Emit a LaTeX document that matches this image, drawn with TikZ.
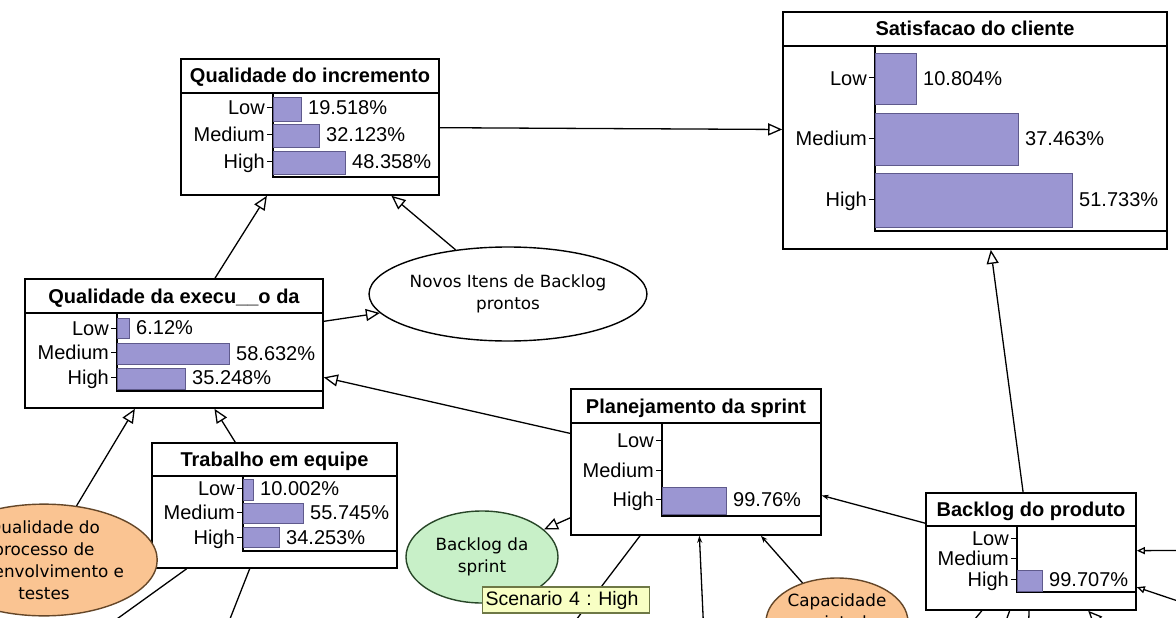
\documentclass[tikz,border=0pt]{standalone}
\usepackage{fontspec}
\setmainfont{Liberation Sans}
\newfontfamily\ellfont{DejaVu Sans}
\usetikzlibrary{arrows.meta,shapes.geometric}
\frenchspacing

\definecolor{barfill}{RGB}{155,150,210}
\definecolor{barline}{RGB}{95,90,140}
\definecolor{peach}{RGB}{250,196,146}
\definecolor{peachline}{RGB}{100,70,40}
\definecolor{mint}{RGB}{200,240,200}
\definecolor{mintline}{RGB}{40,70,40}
\definecolor{tipfill}{RGB}{248,255,196}
\definecolor{tipline}{RGB}{110,120,70}

\tikzset{
  netbox/.style={draw=black, line width=1.6pt, fill=white, rectangle, inner sep=0pt},
  boxtitle/.style={font=\bfseries\fontsize{20}{22}\selectfont, inner sep=0pt, anchor=base},
  statename/.style={font=\fontsize{20}{22}\selectfont, inner sep=0pt, anchor=base east},
  pctlabel/.style={font=\fontsize{20}{22}\selectfont, inner sep=0pt, anchor=base west},
  frameline/.style={line width=1.4pt},
  tickmark/.style={line width=1pt},
  bar/.style={fill=barfill, draw=barline, line width=0.8pt},
  chance/.style={ellipse, draw=black, line width=1.4pt, inner sep=0pt, align=center,
    font=\ellfont\fontsize{16.8}{22}\selectfont},
  conn/.style={line width=1.3pt, -{Triangle[open, fill=white, length=14pt, width=12pt]}},
  inlet/.style={line width=1.3pt, -{Triangle[open, fill=white, length=8pt, width=7pt]}},
  feed/.style={line width=1.3pt, -{Stealth[length=7pt, width=5pt]}},
  wire/.style={line width=1.3pt},
  scenario/.style={draw=tipline, fill=tipfill, line width=1.2pt, inner sep=0pt,
    minimum width=167pt, minimum height=26pt, font=\fontsize{19.5}{22}\selectfont}
}

% state name with its tick on the axis: axis x, text centre y, name
\newcommand\netlabel[3]{%
  \node[statename] at (#1-8,#2+7) {#3};
  \draw[tickmark] (#1-6,#2) -- (#1,#2);}
% probability bar: axis x, top y, bottom y, end x, text centre y, value
\newcommand\netbar[6]{%
  \filldraw[bar] (#1,#2) rectangle (#4,#3);
  \node[pctlabel] at (#4+7,#5+7) {#6};}

\begin{document}
\begin{tikzpicture}[x=1pt,y=-1pt]
\useasboundingbox (0,0) rectangle (1176,618);
\clip (0,0) rectangle (1176,618);

% ---------- nodes ----------
\node[netbox, minimum width=258pt, minimum height=136pt] (inc)  at (310,127) {};
\node[netbox, minimum width=384pt, minimum height=237pt] (sat)  at (975,130.5) {};
\node[netbox, minimum width=298pt, minimum height=129pt] (exec) at (174,343.5) {};
\node[netbox, minimum width=245pt, minimum height=125pt] (trab) at (274.5,505.5) {};
\node[netbox, minimum width=250pt, minimum height=146pt] (plan) at (696,462) {};
\node[netbox, minimum width=210pt, minimum height=117pt] (prod) at (1031,551.5) {};

\node[chance, fill=white, minimum width=256pt, minimum height=94pt] (novos) at (508,294)
  {Novos Itens de Backlog\\prontos};
\node[chance, fill=peach, draw=peachline, minimum width=200pt, minimum height=96pt] (proc) at (44,560)
  {Qualidade do\\processo de\\desenvolvimento e\\testes};
\node[chance, fill=mint, draw=mintline, minimum width=152pt, minimum height=92pt] (sprint) at (482,557)
  {Backlog da\\sprint};
\node[chance, fill=peach, draw=peachline, minimum width=142pt, minimum height=88pt] (capac) at (837,622)
  {Capacidade\\projetada\\\mbox{}};

% free ends of arcs leading to nodes outside the view
\coordinate (offB) at (554,649);
\coordinate (offC) at (706,680);
\coordinate (offD) at (71,652);
\coordinate (offE) at (217,652);
\coordinate (offF) at (955,643);
\coordinate (offG) at (998,643);
\coordinate (offH) at (1028,643);
\coordinate (offI) at (1125,649);
\coordinate (offJ) at (1230,550);
\coordinate (offK) at (1243,623);

% ---------- arcs ----------
\draw[conn] (inc) -- (sat);
\draw[conn] (prod) -- (sat);
\draw[conn] (exec) -- (inc);
\draw[conn] (novos) -- (inc);
\draw[conn] (exec) -- (novos);
\draw[conn] (plan) -- (exec);
\draw[conn] (trab) -- (exec);
\draw[conn] (proc) -- (exec);
\draw[conn] (plan) -- (sprint);
\draw[feed] (prod) -- (plan);
\draw[feed] (capac) -- (plan);
\draw[feed] (offC) -- (plan);
\draw[wire] (plan) -- (offB);
\draw[wire] (trab) -- (offD);
\draw[wire] (trab) -- (offE);
\draw[wire] (prod) -- (offF);
\draw[wire] (prod) -- (offG);
\draw[wire] (prod) -- (offH);
\draw[conn] (offI) -- (prod);
\draw[inlet] (offJ) -- (prod);
\draw[inlet] (offK) -- (prod);

% ---------- Qualidade do incremento ----------
\node[boxtitle] (incT) at (310,83) {Qualidade do incremento};
\draw[frameline] (181,93) -- (439,93);
\draw[frameline] (273,93) -- (273,177) -- (439,177);
\netbar{273}{97}{121}{301}{107}{19.518\%}
\netbar{273}{124}{147}{319}{134}{32.123\%}
\netbar{273}{151}{174}{345}{161}{48.358\%}
\netlabel{273}{107}{Low}
\netlabel{273}{134}{Medium}
\netlabel{273}{161}{High}

% ---------- Satisfacao do cliente ----------
\node[boxtitle] (satT) at (975,36) {Satisfacao do cliente};
\draw[frameline] (783,46) -- (1167,46);
\draw[frameline] (875,46) -- (875,231) -- (1167,231);
\netbar{875}{53}{104}{916}{78}{10.804\%}
\netbar{875}{113}{165}{1018}{138}{37.463\%}
\netbar{875}{173}{227}{1072}{199}{51.733\%}
\netlabel{875}{78}{Low}
\netlabel{875}{138}{Medium}
\netlabel{875}{199}{High}

% ---------- Qualidade da execucao ----------
\node[boxtitle] (execT) at (174,303) {Qualidade da execu\_\_o da};
\draw[frameline] (25,313) -- (323,313);
\draw[frameline] (117,313) -- (117,391) -- (323,391);
\netbar{117}{318}{338}{129}{327}{6.12\%}
\netbar{117}{343}{364}{229}{353}{58.632\%}
\netbar{117}{368}{389}{185}{377}{35.248\%}
\netlabel{117}{328}{Low}
\netlabel{117}{352}{Medium}
\netlabel{117}{377}{High}

% ---------- Trabalho em equipe ----------
\node[boxtitle] (trabT) at (274.5,466.5) {Trabalho em equipe};
\draw[frameline] (152,476) -- (397,476);
\draw[frameline] (243,476) -- (243,551) -- (397,551);
\netbar{243}{479}{500}{253}{488}{10.002\%}
\netbar{243}{503}{523}{303}{512}{55.745\%}
\netbar{243}{527}{547}{279}{537}{34.253\%}
\netlabel{243}{488}{Low}
\netlabel{243}{512}{Medium}
\netlabel{243}{537}{High}

% ---------- Planejamento da sprint ----------
\node[boxtitle] (planT) at (696,413) {Planejamento da sprint};
\draw[frameline] (571,423) -- (821,423);
\draw[frameline] (662,423) -- (662,516) -- (821,516);
\netbar{662}{487}{514}{726}{499}{99.76\%}
\netlabel{662}{440}{Low}
\netlabel{662}{470}{Medium}
\netlabel{662}{499}{High}

% ---------- Backlog do produto ----------
\node[boxtitle] (prodT) at (1031,516.5) {Backlog do produto};
\draw[frameline] (926,526) -- (1136,526);
\draw[frameline] (1017,526) -- (1017,592) -- (1136,592);
\netbar{1017}{570}{591}{1042}{579}{99.707\%}
\netlabel{1017}{538}{Low}
\netlabel{1017}{558}{Medium}
\netlabel{1017}{579}{High}

% ---------- scenario tooltip ----------
\node[scenario, anchor=west, text width=161pt, align=left, inner xsep=3pt] (scen) at (482,600) {Scenario 4 : High};

\end{tikzpicture}
\end{document}
